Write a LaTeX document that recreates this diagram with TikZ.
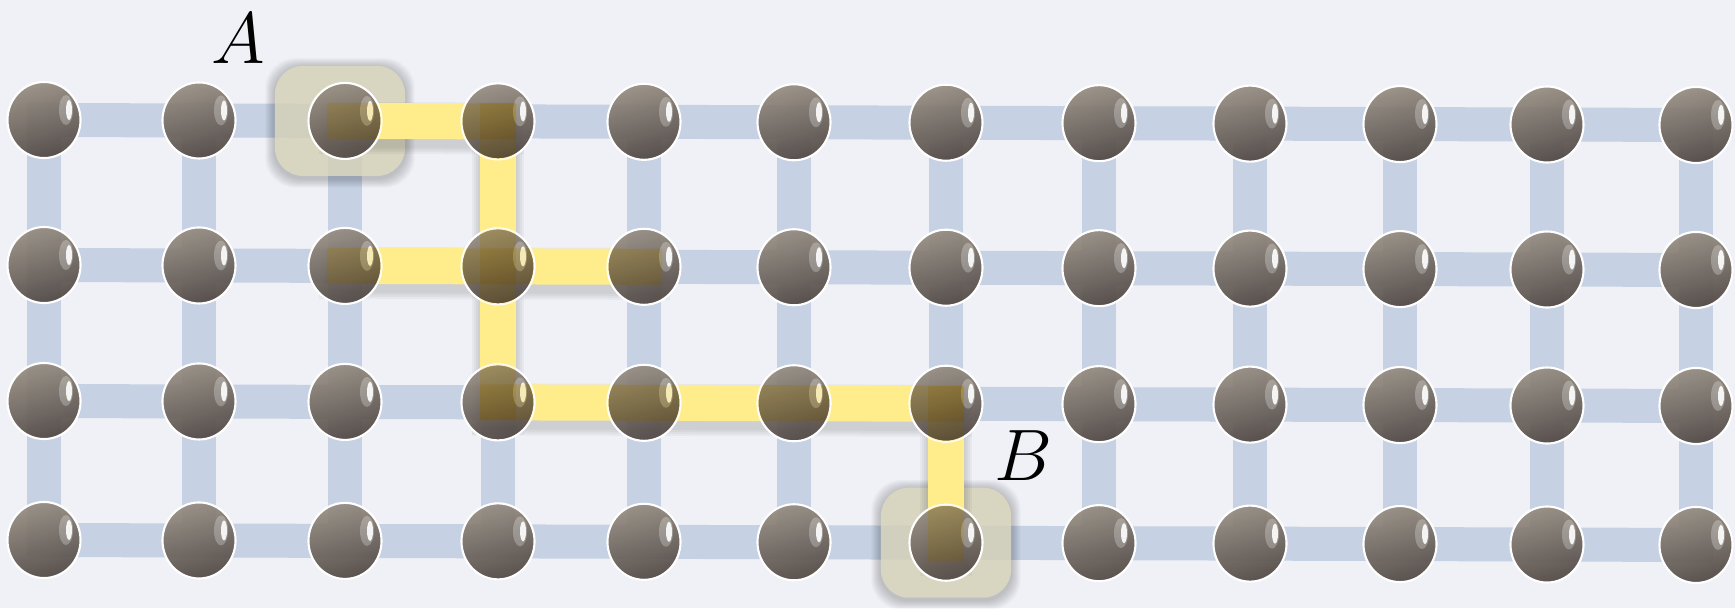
\documentclass[tikz,border=0pt]{standalone}
\usepackage{tikz}
\usetikzlibrary{shapes.geometric}
\definecolor{paper}{HTML}{F0F1F6}
\definecolor{linkblue}{HTML}{C6D1E4}
\definecolor{routeyellow}{HTML}{FFEC8A}
\definecolor{marktan}{HTML}{DFDBC1}
\definecolor{ballhi}{HTML}{958C80}
\definecolor{balllo}{HTML}{4E4541}
\pgfdeclarelayer{grid}
\pgfdeclarelayer{shade}
\pgfdeclarelayer{mark}
\pgfdeclarelayer{route}
\pgfdeclarelayer{tint}
\pgfsetlayers{grid,shade,mark,route,main,tint}
\tikzset{
  ball/.style={ellipse, minimum width=0.73cm, minimum height=0.76cm, inner sep=0pt,
    draw=white, line width=0.6pt, top color=ballhi, bottom color=balllo,
    shading angle=15, fill opacity=0.92,
    path picture={
      \fill[white, opacity=0.25] ([xshift=0.22cm,yshift=0.1cm]path picture bounding box.center)
        ellipse [x radius=0.07cm, y radius=0.15cm];
      \fill[white, opacity=0.9] ([xshift=0.25cm,yshift=0.1cm]path picture bounding box.center)
        ellipse [x radius=0.03cm, y radius=0.1cm];
    }},
  link/.style={draw=linkblue, line width=0.34cm, line cap=rect},
  route/.style={draw=routeyellow, line width=0.36cm, line cap=rect},
  routeshade/.style={draw=black, opacity=#1, line cap=rect},
  markbox/.style={rectangle, rounded corners=0.28cm, minimum width=1.3cm,
    minimum height=1.1cm, fill=marktan, fill opacity=0.8, inner sep=0pt},
  lbl/.style={font=\fontsize{21}{25}\selectfont, inner sep=0pt},
}

\begin{document}
\begin{tikzpicture}[x=0.01cm, y=0.01cm]
  \useasboundingbox (0,0) rectangle (1735,-608);
  \begin{pgfonlayer}{grid}
    \fill[paper] (0,0) rectangle (1735,-608);
  \end{pgfonlayer}

  % lattice sites
  \foreach \r/\y in {1/120,2/265,3/401,4/540}{
    \foreach \c/\x in {1/44,2/199,3/345,4/498,5/644,6/794,7/946,8/1099,9/1250,10/1400,11/1547,12/1696}{
      \node[ball] (n-\c-\r) at (\x,{-\y-0.45*(\c-1)}) {};
    }
  }

  % bonds
  \begin{pgfonlayer}{grid}
    \foreach \r in {1,...,4}
      \foreach \c [count=\d from 2] in {1,...,11}
        \draw[link] (n-\c-\r.center) -- (n-\d-\r.center);
    \foreach \c in {1,...,12}
      \foreach \r [count=\s from 2] in {1,2,3}
        \draw[link] (n-\c-\r.center) -- (n-\c-\s.center);
  \end{pgfonlayer}

  % end points
  \begin{pgfonlayer}{mark}
    \node[markbox, xshift=-0.05cm] (boxA) at (n-3-1.center) {};
    \node[markbox] (boxB) at (n-7-4.center) {};
  \end{pgfonlayer}
  \begin{pgfonlayer}{shade}
    \foreach \bx in {boxA,boxB}
      \foreach \g in {1,...,9}
        \fill[black, opacity=0.022, rounded corners=0.3cm]
          ([shift={(-\g,-\g-2)}]\bx.south west) rectangle ([shift={(\g,\g-2)}]\bx.north east);
  \end{pgfonlayer}

  % string
  \begin{pgfonlayer}{route}
    \foreach \w in {0.52cm,0.48cm,0.44cm,0.4cm}
      \foreach \a/\b in {n-3-1/n-4-1,n-4-1/n-4-3,n-3-2/n-5-2,n-4-3/n-7-3,n-7-3/n-7-4}
        \draw[routeshade=0.035, line width=\w] ([yshift=-2]\a.center) -- ([yshift=-2]\b.center);
    \foreach \a/\b in {n-3-1/n-4-1,n-4-1/n-4-3,n-3-2/n-5-2,n-4-3/n-7-3,n-7-3/n-7-4}
      \draw[route] (\a.center) -- (\b.center);
  \end{pgfonlayer}
  \begin{pgfonlayer}{tint}
    \begin{scope}
      \clip \foreach \c/\r in {3/1,4/1,3/2,4/2,5/2,4/3,5/3,6/3,7/3,7/4}
        {(n-\c-\r.center) ellipse [x radius=36, y radius=38]};
      \begin{scope}[blend mode=multiply, opacity=0.55]
        \foreach \a/\b in {n-3-1/n-4-1,n-4-1/n-4-3,n-3-2/n-5-2,n-4-3/n-7-3,n-7-3/n-7-4}
          \draw[route] (\a.center) -- (\b.center);
      \end{scope}
    \end{scope}
  \end{pgfonlayer}

  \node[lbl] (labA) at (238,-39) {$A$};
  \node[lbl] (labB) at (1023,-456) {$B$};
\end{tikzpicture}
\end{document}
